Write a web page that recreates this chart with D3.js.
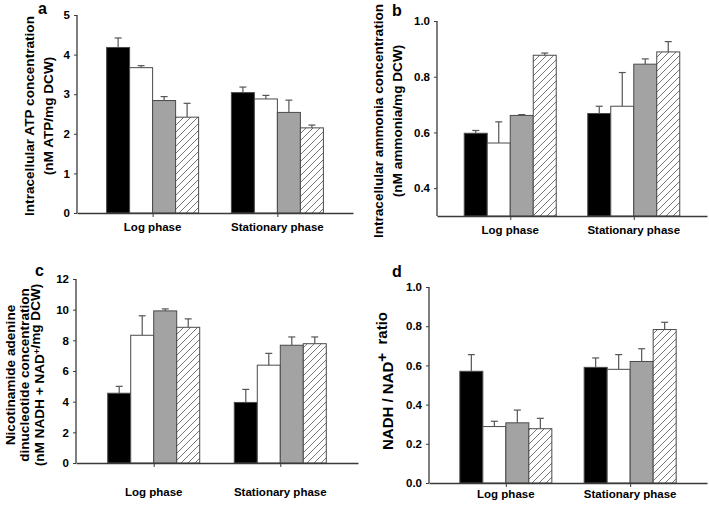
<!DOCTYPE html>
<html><head><meta charset="utf-8">
<script src="https://cdn.jsdelivr.net/npm/d3@7/dist/d3.min.js"></script>
<style>
html,body{margin:0;padding:0;background:#fff;}
text{font-family:"Liberation Sans",Arial,sans-serif;font-weight:bold;fill:#000;}
</style></head>
<body>
<svg id="chart" width="709" height="506"></svg>
<script>
// ---------------- data ----------------
const categories = ["Log phase", "Stationary phase"];
const seriesNames = ["Series 1", "Series 2", "Series 3", "Series 4"];

const atpMean   = [[4.18, 3.67, 2.84, 2.42], [3.04, 2.88, 2.54, 2.15]];
const atpErr    = [[0.24, 0.05, 0.10, 0.35], [0.14, 0.09, 0.31, 0.07]];
const atpTicks  = [0, 1, 2, 3, 4, 5];

const ammMean   = [[0.597, 0.562, 0.661, 0.877], [0.668, 0.694, 0.845, 0.889]];
const ammErr    = [[0.010, 0.076, 0.003, 0.008], [0.026, 0.121, 0.019, 0.037]];
const ammTicks  = [0.4, 0.6, 0.8, 1.0];

const nadMean   = [[4.55, 8.33, 9.92, 8.85], [3.95, 6.38, 7.68, 7.78]];
const nadErr    = [[0.45, 1.27, 0.13, 0.55], [0.85, 0.77, 0.54, 0.44]];
const nadTicks  = [0, 2, 4, 6, 8, 10, 12];

const ratioMean  = [[0.570, 0.288, 0.307, 0.277], [0.590, 0.580, 0.620, 0.783]];
const ratioErr   = [[0.085, 0.027, 0.065, 0.053], [0.048, 0.075, 0.065, 0.037]];
const ratioTicks = [0.0, 0.2, 0.4, 0.6, 0.8, 1.0];

// ---------------- drawing ----------------
const svg = d3.select("#chart");
const defs = svg.append("defs");
const pat = defs.append("pattern").attr("id", "hatch")
  .attr("patternUnits", "userSpaceOnUse").attr("width", 7).attr("height", 7);
pat.append("rect").attr("width", 7).attr("height", 7).attr("fill", "#fff");
pat.append("path").attr("d", "M-1,8 L8,-1 M-1,1 L1,-1 M6,8 L8,6")
  .attr("stroke", "#666").attr("stroke-width", 0.9);

const fills = ["#000000", "#ffffff", "#a3a3a3", "url(#hatch)"];
const axisColor = "#3a3a3a";

function panel(cfg) {
  const g = svg.append("g");
  const x = d3.scalePoint().domain(categories).range(cfg.xr).padding(cfg.pad);
  const sub = d3.scaleBand().domain(seriesNames).range([-46, 46]).padding(0);
  const y = d3.scaleLinear().domain(cfg.yd).range(cfg.yr);

  // bars
  cfg.mean.forEach((row, ci) => {
    row.forEach((v, si) => {
      const x0 = x(categories[ci]) + sub(seriesNames[si]);
      const err = cfg.err[ci][si];
      g.append("rect")
        .attr("x", x0).attr("y", y(v))
        .attr("width", sub.bandwidth()).attr("height", y(cfg.yd[0]) - y(v))
        .attr("fill", fills[si]).attr("stroke", "#4a4a4a").attr("stroke-width", 1);
      const cx = x0 + sub.bandwidth() / 2;
      g.append("line").attr("x1", cx).attr("x2", cx)
        .attr("y1", y(v)).attr("y2", y(v + err))
        .attr("stroke", "#555").attr("stroke-width", 1.2);
      g.append("line").attr("x1", cx - 3.5).attr("x2", cx + 3.5)
        .attr("y1", y(v + err)).attr("y2", y(v + err))
        .attr("stroke", "#555").attr("stroke-width", 1.2);
    });
  });

  // y axis
  const ya = g.append("g").attr("transform", `translate(${cfg.xr[0]},0)`)
    .call(d3.axisLeft(y).tickValues(cfg.ticks).tickSize(3).tickPadding(4)
      .tickFormat(cfg.fmt).tickSizeOuter(0));
  ya.select(".domain").attr("stroke", axisColor).attr("stroke-width", 1.3);
  ya.selectAll(".tick line").attr("stroke", axisColor);
  ya.selectAll(".tick text").style("font-size", "11.5px")
    .style("font-family", '"Liberation Sans",Arial,sans-serif').style("font-weight", "bold");
  ya.select(".domain").attr("d", `M0,${y(cfg.yd[1])}V${y(cfg.yd[0])}`);

  // x axis
  const xa = g.append("g").attr("transform", `translate(0,${y(cfg.yd[0])})`)
    .call(d3.axisBottom(x).tickSize(4).tickSizeOuter(0).tickFormat(""));
  xa.select(".domain").attr("stroke", axisColor).attr("stroke-width", 1.3);
  xa.selectAll(".tick line").attr("stroke", axisColor);
  categories.forEach(c => {
    g.append("text").attr("x", x(c)).attr("y", cfg.catY)
      .attr("text-anchor", "middle").style("font-size", "11.5px").text(c);
  });

  // panel letter
  g.append("text").attr("x", cfg.letter[0]).attr("y", cfg.letter[1])
    .style("font-size", "16px").text(cfg.letterText);

  // y label lines
  cfg.ylab.forEach(l => {
    const t = g.append("text")
      .attr("transform", `translate(${l.x},${cfg.labY}) rotate(-90)`)
      .attr("text-anchor", "middle").attr("dy", "0.36em")
      .style("white-space", "pre")
      .style("font-size", (l.fs || 13.6) + "px");
    l.parts.forEach(p => {
      if (p.sup) {
        t.append("tspan").attr("dy", "-0.45em").style("font-size", p.fs || "0.7em").text(p.t);
        t.append("tspan").attr("dy", "0.45em").text("");
      } else {
        t.append("tspan").text(p.t);
      }
    });
  });
}

panel({
  xr: [77, 353], pad: 0.606, yd: [0, 5], yr: [213, 15], ticks: atpTicks, fmt: d3.format("d"),
  mean: atpMean, err: atpErr, catY: 231, letter: [38, 14], letterText: "a",
  labY: 116,
  ylab: [{x: 29, parts: [{t: "Intracellular ATP concentration"}]},
         {x: 48, parts: [{t: "(nM ATP/mg DCW)"}]}]
});
panel({
  xr: [437, 707], pad: 0.593, yd: [0.3, 1.0], yr: [216, 21], ticks: ammTicks, fmt: d3.format(".1f"),
  mean: ammMean, err: ammErr, catY: 234, letter: [392, 16], letterText: "b",
  labY: 121,
  ylab: [{x: 378, parts: [{t: "Intracellular ammonia concentration"}]},
         {x: 397, parts: [{t: "(nM ammonia/mg DCW)"}]}]
});
panel({
  xr: [76, 358], pad: 0.614, yd: [0, 12], yr: [463, 279], ticks: nadTicks, fmt: d3.format("d"),
  mean: nadMean, err: nadErr, catY: 496, letter: [35, 276], letterText: "c",
  labY: 375,
  ylab: [{x: 10, parts: [{t: "Nicotinamide adenine"}]},
         {x: 24, parts: [{t: "dinucleotide concentration"}]},
         {x: 39, parts: [{t: "(nM NADH + NAD"}, {t: "+", sup: true}, {t: "/mg DCW)"}]}]
});
panel({
  xr: [429, 707], pad: 0.618, yd: [0, 1.0], yr: [483, 287], ticks: ratioTicks, fmt: d3.format(".1f"),
  mean: ratioMean, err: ratioErr, catY: 498, letter: [392, 277], letterText: "d",
  labY: 381,
  ylab: [{x: 388, fs: 15, parts: [{t: "NADH / NAD"}, {t: "+", sup: true, fs: "1em"}, {t: "  ratio"}]}]
});
</script>
</body></html>
